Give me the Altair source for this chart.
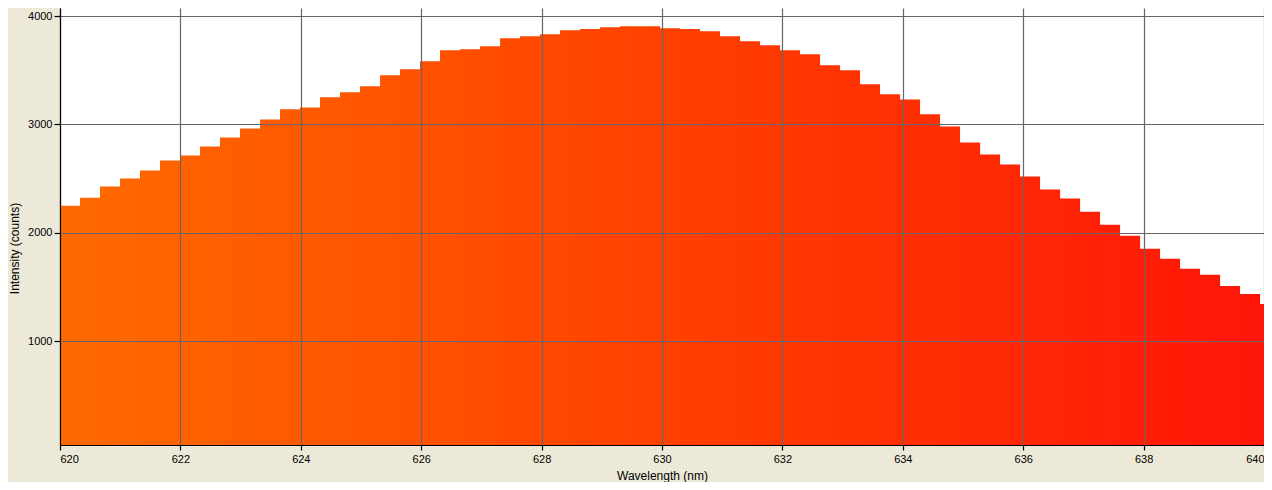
import altair as alt
import pandas as pd

wavelength = [
    620.000, 620.332, 620.665, 620.997, 621.329, 621.661, 621.994, 622.326, 622.658, 622.990,
    623.323, 623.655, 623.987, 624.319, 624.652, 624.984, 625.316, 625.648, 625.981, 626.313,
    626.645, 626.977, 627.310, 627.642, 627.974, 628.306, 628.639, 628.971, 629.303, 629.635,
    629.968, 630.300, 630.632, 630.964, 631.297, 631.629, 631.961, 632.293, 632.626, 632.958,
    633.290, 633.622, 633.955, 634.287, 634.619, 634.951, 635.284, 635.616, 635.948, 636.280,
    636.613, 636.945, 637.277, 637.609, 637.942, 638.274, 638.606, 638.938, 639.271, 639.603,
    639.935, 640.267,
]
intensity = [
    2250, 2324, 2426, 2500, 2574, 2667, 2713, 2796, 2880, 2963,
    3046, 3139, 3157, 3250, 3296, 3352, 3454, 3509, 3583, 3685,
    3694, 3722, 3796, 3815, 3833, 3870, 3880, 3898, 3907, 3907,
    3889, 3880, 3861, 3815, 3769, 3731, 3685, 3648, 3546, 3500,
    3370, 3278, 3231, 3093, 2981, 2833, 2722, 2630, 2519, 2398,
    2315, 2194, 2074, 1972, 1852, 1759, 1667, 1611, 1509, 1435,
    1343, 1343,
]
x_ticks = [620, 622, 624, 626, 628, 630, 632, 634, 636, 638, 640]
y_ticks = [1000, 2000, 3000, 4000]

df = pd.DataFrame({"wl": wavelength, "counts": intensity})

grad = alt.Gradient(
    gradient="linear",
    x1=0, x2=1, y1=0, y2=0,
    stops=[
        alt.GradientStop(color="#FF6A00", offset=0),
        alt.GradientStop(color="#FF4000", offset=0.5),
        alt.GradientStop(color="#FF1408", offset=1),
    ],
)

FONT = "Liberation Sans"

chart = (
    alt.Chart(df)
    .mark_area(interpolate="step-after", color=grad, clip=True)
    .encode(
        x=alt.X(
            "wl:Q",
            scale=alt.Scale(domain=[620, 640], nice=False, zero=False),
            axis=alt.Axis(
                values=x_ticks, format="d", title="Wavelength (nm)",
                grid=True, gridColor="#666666", gridWidth=1.2, gridOpacity=1,
                domainColor="#000000", domainWidth=1.2,
                tickColor="#000000", tickSize=5, tickWidth=1.2,
                labelFont=FONT, labelFontSize=11, labelColor="#000000", labelPadding=3,
                labelFlush=True,
                titleFont=FONT, titleFontSize=12, titleFontWeight="normal",
                titleColor="#000000", titleBaseline="alphabetic", titleY=34,
                zindex=1,
            ),
        ),
        y=alt.Y(
            "counts:Q",
            scale=alt.Scale(domain=[40, 4075], nice=False, zero=False),
            axis=alt.Axis(
                values=y_ticks, format="d", title="Intensity (counts)",
                grid=True, gridColor="#666666", gridWidth=1.2, gridOpacity=1,
                domainColor="#000000", domainWidth=1.2,
                tickColor="#000000", tickSize=6, tickWidth=1.2,
                labelFont=FONT, labelFontSize=11, labelColor="#000000", labelPadding=2,
                labelFlush=False,
                titleFont=FONT, titleFontSize=12, titleFontWeight="normal",
                titleColor="#000000", titleX=-39, titleY=240,
                zindex=1,
            ),
        ),
    )
    .properties(
        width=1204,
        height=437,
        background="#ECE9D8",
        autosize=alt.AutoSizeParams(type="none"),
        padding={"left": 52, "top": 0, "right": 0, "bottom": 37},
    )
    .configure_view(stroke=None, fill="#FFFFFF")
)

chart.save("out.html", embed_options={"renderer": "svg", "actions": False})
